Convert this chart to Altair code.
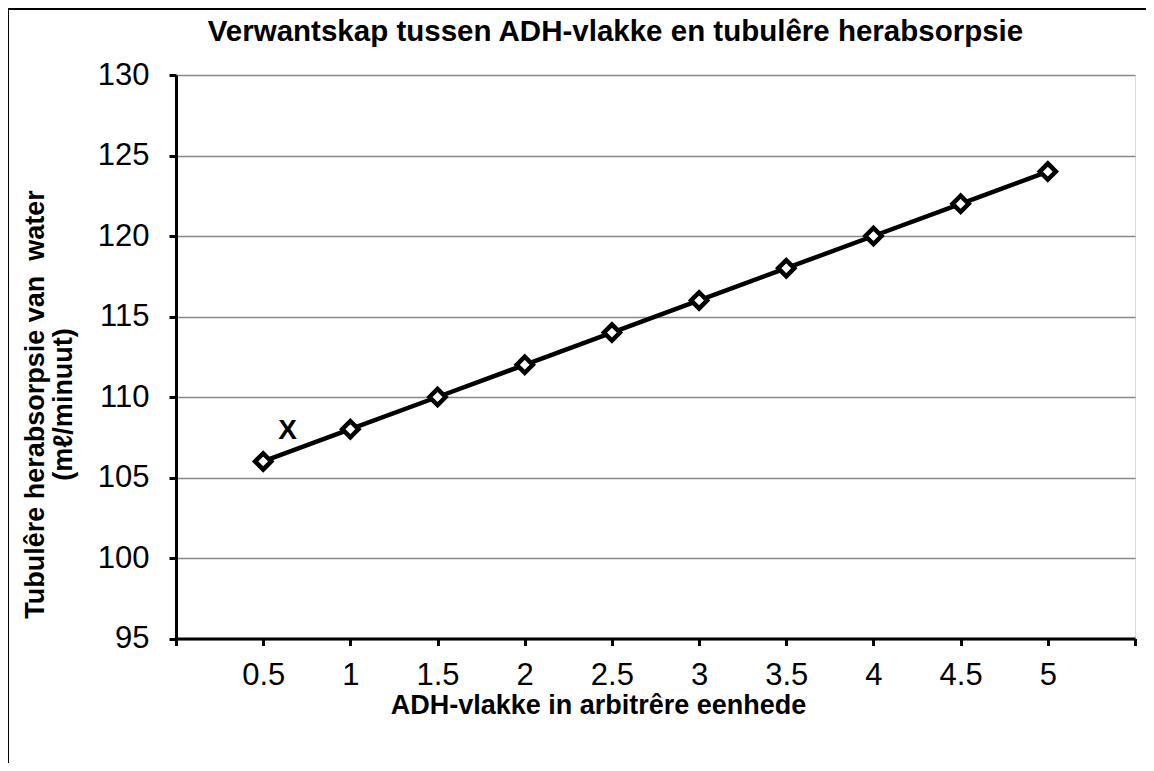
import altair as alt
import pandas as pd

adh = [0.5, 1, 1.5, 2, 2.5, 3, 3.5, 4, 4.5, 5]
reabsorption = [106, 108, 110, 112, 114, 116, 118, 120, 122, 124]
x_ticks = [0, 0.5, 1, 1.5, 2, 2.5, 3, 3.5, 4, 4.5, 5, 5.5]
y_ticks = [95, 100, 105, 110, 115, 120, 125, 130]
annot_x = [0.64]
annot_y = [107.9]
annot_text = ["X"]

df = pd.DataFrame({"adh": adh, "r": reabsorption})
ann = pd.DataFrame({"adh": annot_x, "r": annot_y, "t": annot_text})

FONT = "Liberation Sans"

xscale = alt.Scale(domain=[0, 5.5], nice=False, zero=False)
yscale = alt.Scale(domain=[95, 130], nice=False, zero=False)

xaxis = alt.Axis(
    values=x_ticks,
    format="~g",
    labelExpr="datum.value == 0 || datum.value == 5.5 ? '' : datum.label",
    title="ADH-vlakke in arbitrêre eenhede",
    titleFont=FONT, titleFontSize=27, titleFontWeight="bold", titleColor="black",
    titleX=422, titleY=67, titleBaseline="middle", titleAnchor="middle",
    labelFont=FONT, labelFontSize=31, labelColor="black", labelPadding=15,
    domainColor="black", domainWidth=3, tickColor="black", tickWidth=3, tickSize=7,
    grid=False, labelFlush=False,
)
yaxis = alt.Axis(
    values=y_ticks,
    title=["Tubulêre herabsorpsie van\u00a0\u00a0water", "(mℓ/minuut)"],
    titleFont=FONT, titleFontSize=27, titleFontWeight="bold", titleColor="black",
    titleX=-141, titleY=329, titleAngle=-90, titleBaseline="middle",
    titleAlign="center", titleLineHeight=28,
    labelFont=FONT, labelFontSize=31, labelColor="black", labelPadding=20,
    domainColor="black", domainWidth=3, tickColor="black", tickWidth=3, tickSize=7,
    grid=True, gridColor="#888888", gridWidth=1.5, labelFlush=False,
)

base = alt.Chart(df)

line = base.mark_line(color="black", strokeWidth=4.5).encode(
    x=alt.X("adh:Q", scale=xscale, axis=xaxis),
    y=alt.Y("r:Q", scale=yscale, axis=yaxis),
)
pts = base.mark_point(shape="diamond", size=260, filled=True, fill="white",
                      stroke="black", strokeWidth=4.5, opacity=1).encode(
    x=alt.X("adh:Q", scale=xscale),
    y=alt.Y("r:Q", scale=yscale),
)
label = alt.Chart(ann).mark_text(font=FONT, fontSize=28, fontWeight="bold",
                                  color="black").encode(
    x=alt.X("adh:Q", scale=xscale),
    y=alt.Y("r:Q", scale=yscale),
    text="t:N",
)
top_border = alt.Chart(ann).mark_rule(color="black", strokeWidth=3).encode(
    x=alt.value(-169), x2=alt.value(975), y=alt.value(-66.5)
)
left_border = alt.Chart(ann).mark_rule(color="black", strokeWidth=3).encode(
    x=alt.value(-168.5), y=alt.value(-68), y2=alt.value(700)
)

chart = alt.layer(line, pts, label, top_border, left_border).properties(
    width=959,
    height=563.5,
    title=alt.TitleParams(
        "Verwantskap tussen ADH-vlakke en tubulêre herabsorpsie",
        font=FONT, fontSize=29.5, fontWeight="bold", color="black",
        anchor="middle", frame="group", dx=-40, offset=0, dy=42,
    ),
    autosize=alt.AutoSizeParams(type="none"),
    padding={"left": 168, "top": 67, "right": 11, "bottom": 124},
).configure_view(stroke=None).configure(background="white")

chart.save("out.html", embed_options={"renderer": "svg", "actions": False})
